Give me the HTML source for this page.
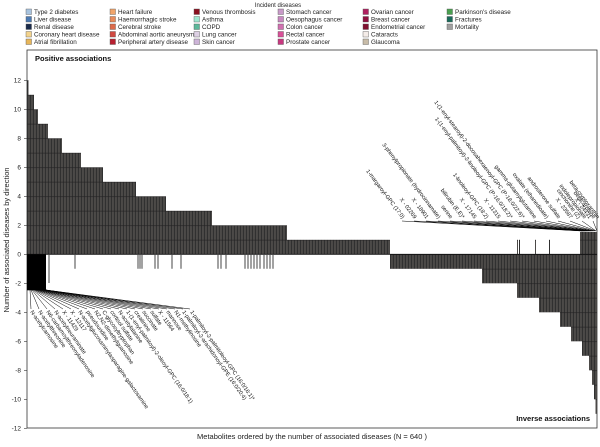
<!DOCTYPE html>
<html><head><meta charset="utf-8"><style>
body{margin:0;background:#fff;}
svg{display:block;font-family:"Liberation Sans",sans-serif;}
</style></head><body>
<svg width="600" height="447" viewBox="0 0 600 447" xmlns="http://www.w3.org/2000/svg">
<defs>
<pattern id="st" width="3" height="14.5" patternUnits="userSpaceOnUse" y="254.3">
<rect width="3" height="14.5" fill="#474545"/>
<rect x="0" width="0.8" height="14.5" fill="#2a2a2a"/>
<rect x="1.6" width="0.6" height="14.5" fill="#55504c"/>
<rect y="0" width="3" height="0.6" fill="#222"/>
</pattern>
</defs>
<text x="278" y="7" font-size="6" text-anchor="middle" fill="#222">Incident diseases</text>
<g font-size="6.3" fill="#222">
<rect x="26" y="9" width="5.5" height="5.5" fill="#a9c4df" stroke="#555" stroke-width=".4"/><text x="34" y="14">Type 2 diabetes</text>
<rect x="26" y="16.5" width="5.5" height="5.5" fill="#4c7ab3" stroke="#555" stroke-width=".4"/><text x="34" y="21.5">Liver disease</text>
<rect x="26" y="24" width="5.5" height="5.5" fill="#1a2a4a" stroke="#555" stroke-width=".4"/><text x="34" y="29">Renal disease</text>
<rect x="26" y="31.5" width="5.5" height="5.5" fill="#f3d38c" stroke="#555" stroke-width=".4"/><text x="34" y="36.5">Coronary heart disease</text>
<rect x="26" y="39" width="5.5" height="5.5" fill="#e7b65a" stroke="#555" stroke-width=".4"/><text x="34" y="44">Atrial fibrillation</text>
<rect x="110" y="9" width="5.5" height="5.5" fill="#f0a46a" stroke="#555" stroke-width=".4"/><text x="118" y="14">Heart failure</text>
<rect x="110" y="16.5" width="5.5" height="5.5" fill="#e88a5a" stroke="#555" stroke-width=".4"/><text x="118" y="21.5">Haemorrhagic stroke</text>
<rect x="110" y="24" width="5.5" height="5.5" fill="#dd6a4a" stroke="#555" stroke-width=".4"/><text x="118" y="29">Cerebral stroke</text>
<rect x="110" y="31.5" width="5.5" height="5.5" fill="#d04840" stroke="#555" stroke-width=".4"/><text x="118" y="36.5">Abdominal aortic aneurysms</text>
<rect x="110" y="39" width="5.5" height="5.5" fill="#b82030" stroke="#555" stroke-width=".4"/><text x="118" y="44">Peripheral artery disease</text>
<rect x="194" y="9" width="5.5" height="5.5" fill="#8a1020" stroke="#555" stroke-width=".4"/><text x="202" y="14">Venous thrombosis</text>
<rect x="194" y="16.5" width="5.5" height="5.5" fill="#9ee8d0" stroke="#555" stroke-width=".4"/><text x="202" y="21.5">Asthma</text>
<rect x="194" y="24" width="5.5" height="5.5" fill="#5cb89a" stroke="#555" stroke-width=".4"/><text x="202" y="29">COPD</text>
<rect x="194" y="31.5" width="5.5" height="5.5" fill="#ddd0e4" stroke="#555" stroke-width=".4"/><text x="202" y="36.5">Lung cancer</text>
<rect x="194" y="39" width="5.5" height="5.5" fill="#cdb4d8" stroke="#555" stroke-width=".4"/><text x="202" y="44">Skin cancer</text>
<rect x="278" y="9" width="5.5" height="5.5" fill="#c89ac8" stroke="#555" stroke-width=".4"/><text x="286" y="14">Stomach cancer</text>
<rect x="278" y="16.5" width="5.5" height="5.5" fill="#c888c0" stroke="#555" stroke-width=".4"/><text x="286" y="21.5">Oesophagus cancer</text>
<rect x="278" y="24" width="5.5" height="5.5" fill="#d070b0" stroke="#555" stroke-width=".4"/><text x="286" y="29">Colon cancer</text>
<rect x="278" y="31.5" width="5.5" height="5.5" fill="#d85098" stroke="#555" stroke-width=".4"/><text x="286" y="36.5">Rectal cancer</text>
<rect x="278" y="39" width="5.5" height="5.5" fill="#c83880" stroke="#555" stroke-width=".4"/><text x="286" y="44">Prostate cancer</text>
<rect x="363" y="9" width="5.5" height="5.5" fill="#b02060" stroke="#555" stroke-width=".4"/><text x="371" y="14">Ovarian cancer</text>
<rect x="363" y="16.5" width="5.5" height="5.5" fill="#901040" stroke="#555" stroke-width=".4"/><text x="371" y="21.5">Breast cancer</text>
<rect x="363" y="24" width="5.5" height="5.5" fill="#801030" stroke="#555" stroke-width=".4"/><text x="371" y="29">Endometrial cancer</text>
<rect x="363" y="31.5" width="5.5" height="5.5" fill="#f4ece8" stroke="#555" stroke-width=".4"/><text x="371" y="36.5">Cataracts</text>
<rect x="363" y="39" width="5.5" height="5.5" fill="#c8bca8" stroke="#555" stroke-width=".4"/><text x="371" y="44">Glaucoma</text>
<rect x="447" y="9" width="5.5" height="5.5" fill="#4aa050" stroke="#555" stroke-width=".4"/><text x="455" y="14">Parkinson's disease</text>
<rect x="447" y="16.5" width="5.5" height="5.5" fill="#1a6a5a" stroke="#555" stroke-width=".4"/><text x="455" y="21.5">Fractures</text>
<rect x="447" y="24" width="5.5" height="5.5" fill="#a0a0a0" stroke="#555" stroke-width=".4"/><text x="455" y="29">Mortality</text>
</g>
<rect x="27" y="50" width="570" height="378" fill="none" stroke="#333" stroke-width="0.8"/>
<text x="35" y="61" font-size="7.5" font-weight="bold" fill="#111">Positive associations</text>
<text x="590" y="421" font-size="7.5" font-weight="bold" fill="#111" text-anchor="end">Inverse associations</text>
<g fill="url(#st)">
<rect x="27" y="80.3" width="1.5" height="174"/>
<rect x="28.5" y="94.8" width="5.5" height="159.5"/>
<rect x="34" y="109.3" width="4" height="145"/>
<rect x="38" y="123.8" width="10" height="130.5"/>
<rect x="48" y="138.3" width="14" height="116"/>
<rect x="62" y="152.8" width="19" height="101.5"/>
<rect x="81" y="167.3" width="22" height="87"/>
<rect x="103" y="181.8" width="33" height="72.5"/>
<rect x="136" y="196.3" width="30" height="58"/>
<rect x="166" y="210.8" width="46" height="43.5"/>
<rect x="212" y="225.3" width="75" height="29"/>
<rect x="287" y="239.8" width="103" height="14.5"/>
<rect x="580" y="232" width="17" height="22.3"/>
<rect x="517" y="239.8" width="1" height="14.5"/><rect x="519" y="239.8" width="1" height="14.5"/>
<rect x="535" y="239.8" width="1" height="14.5"/><rect x="549" y="239.8" width="1" height="14.5"/>
<rect x="390" y="254.3" width="207" height="14.5"/>
<rect x="482" y="254.3" width="115" height="29"/>
<rect x="517" y="254.3" width="80" height="43.5"/>
<rect x="539" y="254.3" width="58" height="58"/>
<rect x="560" y="254.3" width="37" height="72.5"/>
<rect x="571" y="254.3" width="26" height="87"/>
<rect x="582" y="254.3" width="15" height="101.5"/>
<rect x="589" y="254.3" width="8" height="116"/>
<rect x="592" y="254.3" width="5" height="130.5"/>
<rect x="594" y="254.3" width="3" height="145"/>
<rect x="595.5" y="254.3" width="1.5" height="159.5"/>
</g>
<line x1="27" y1="254.3" x2="597" y2="254.3" stroke="#111" stroke-width="0.8"/>
<g stroke="#444" stroke-width="1">
<line x1="49" y1="254" x2="49" y2="283"/>
<line x1="75" y1="254" x2="75" y2="268.8"/>
<line x1="138" y1="254" x2="138" y2="268.8"/><line x1="140" y1="254" x2="140" y2="268.8"/><line x1="142" y1="254" x2="142" y2="268.8"/>
<line x1="155" y1="254" x2="155" y2="268.8"/><line x1="158" y1="254" x2="158" y2="268.8"/>
<line x1="172" y1="254" x2="172" y2="268.8"/><line x1="181" y1="254" x2="181" y2="268.8"/>
<line x1="218" y1="254" x2="218" y2="268.8"/><line x1="221" y1="254" x2="221" y2="268.8"/><line x1="226" y1="254" x2="226" y2="268.8"/>
<line x1="245" y1="254" x2="245" y2="268.8"/><line x1="248" y1="254" x2="248" y2="268.8"/><line x1="251" y1="254" x2="251" y2="268.8"/><line x1="254" y1="254" x2="254" y2="268.8"/><line x1="257" y1="254" x2="257" y2="268.8"/><line x1="260" y1="254" x2="260" y2="268.8"/><line x1="264" y1="254" x2="264" y2="268.8"/><line x1="267" y1="254" x2="267" y2="268.8"/><line x1="270" y1="254" x2="270" y2="268.8"/><line x1="273" y1="254" x2="273" y2="268.8"/>
</g>
<rect x="27" y="254.3" width="19" height="36" fill="#000"/>
<g stroke="#000" stroke-width="0.5">
<line x1="30" y1="290" x2="31" y2="309"/><line x1="31" y1="290" x2="39" y2="309"/><line x1="32" y1="290" x2="47" y2="309"/><line x1="33" y1="290" x2="55" y2="309"/><line x1="34" y1="290" x2="63" y2="309"/><line x1="35" y1="290" x2="71" y2="309"/><line x1="36" y1="290" x2="79" y2="309"/><line x1="37" y1="290" x2="87" y2="309"/><line x1="38" y1="290" x2="95" y2="309"/><line x1="39" y1="290" x2="103" y2="309"/><line x1="40" y1="290" x2="111" y2="309"/><line x1="41" y1="290" x2="119" y2="309"/><line x1="42" y1="290" x2="127" y2="309"/><line x1="43" y1="290" x2="135" y2="309"/><line x1="44" y1="290" x2="143" y2="309"/><line x1="45" y1="290" x2="151" y2="309"/><line x1="45" y1="290" x2="159" y2="309"/><line x1="46" y1="290" x2="167" y2="309"/><line x1="46" y1="290" x2="175" y2="309"/><line x1="46" y1="290" x2="183" y2="309"/><line x1="46" y1="290" x2="190" y2="309"/>
</g>
<g font-size="5.6" fill="#111">
<text transform="translate(30,312) rotate(55)">N-acetylcarnosine</text>
<text transform="translate(38,312) rotate(55)">N-acetylthreonine</text>
<text transform="translate(46,312) rotate(55)">N6-carbamoylthreonyladenosine</text>
<text transform="translate(54,312) rotate(55)">N-acetylneuraminate</text>
<text transform="translate(62,312) rotate(55)">X - 11429</text>
<text transform="translate(70,312) rotate(55)">X - 12117</text>
<text transform="translate(78,312) rotate(55)">N-acetylglucosaminylasparagine-galactosamine</text>
<text transform="translate(86,312) rotate(55)">pseudouridine</text>
<text transform="translate(94,312) rotate(55)">N2,N2-dimethylguanosine</text>
<text transform="translate(102,312) rotate(55)">C-glycosyltryptophan</text>
<text transform="translate(110,312) rotate(55)">cortisol sulfate</text>
<text transform="translate(118,312) rotate(55)">N-acetylalanine</text>
<text transform="translate(126,312) rotate(55)">1-(1-enyl-palmitoyl)-2-oleoyl-GPC (16:0/18:1)</text>
<text transform="translate(134,312) rotate(55)">creatinine</text>
<text transform="translate(142,312) rotate(55)">succinate</text>
<text transform="translate(150,312) rotate(55)">sulfate</text>
<text transform="translate(158,312) rotate(55)">X - 11564</text>
<text transform="translate(166,312) rotate(55)">mannose</text>
<text transform="translate(174,312) rotate(55)">N1-methylinosine</text>
<text transform="translate(182,312) rotate(55)">1-palmitoyl-2-arachidonoyl-GPE (16:0/20:4)</text>
<text transform="translate(190,312) rotate(55)">1-palmitoyl-2-palmitoleoyl-GPC (16:0/16:1)*</text>
</g>
<g stroke="#000" stroke-width="0.5">
<line x1="402" y1="221" x2="582" y2="231"/><line x1="414" y1="221" x2="583" y2="231"/><line x1="426" y1="221" x2="584" y2="231"/><line x1="438" y1="221" x2="585" y2="231"/><line x1="450" y1="221" x2="586" y2="231"/><line x1="462" y1="221" x2="587" y2="231"/><line x1="474" y1="221" x2="588" y2="231"/><line x1="486" y1="221" x2="589" y2="231"/><line x1="498" y1="221" x2="590" y2="231"/><line x1="510" y1="221" x2="591" y2="231"/><line x1="522" y1="221" x2="592" y2="231"/><line x1="534" y1="221" x2="593" y2="231"/><line x1="546" y1="221" x2="594" y2="231"/><line x1="558" y1="221" x2="595" y2="231"/><line x1="570" y1="221" x2="596" y2="231"/><line x1="582" y1="221" x2="596" y2="231"/><line x1="593" y1="221" x2="597" y2="231"/>
</g>
<g font-size="5.6" fill="#111" text-anchor="end">
<text transform="translate(402,219) rotate(53)">1-margaroyl-GPC (17:0)</text>
<text transform="translate(414,219) rotate(53)">X - 02269</text>
<text transform="translate(426,219) rotate(53)">X - 18901</text>
<text transform="translate(438,219) rotate(53)">3-phenylpropionate (hydrocinnamate)</text>
<text transform="translate(450,219) rotate(53)">serine</text>
<text transform="translate(462,219) rotate(53)">bilirubin (E,E)*</text>
<text transform="translate(474,219) rotate(53)">X - 17145</text>
<text transform="translate(486,219) rotate(53)">1-linoleoyl-GPC (18:2)</text>
<text transform="translate(498,219) rotate(53)">X - 11315</text>
<text transform="translate(510,219) rotate(53)">1-(1-enyl-palmitoyl)-2-linoleoyl-GPC (P-16:0/18:2)*</text>
<text transform="translate(522,219) rotate(53)">1-(1-enyl-stearoyl)-2-docosahexaenoyl-GPC (P-18:0/22:6)*</text>
<text transform="translate(534,219) rotate(53)">gamma-glutamylglutamine</text>
<text transform="translate(546,219) rotate(53)">oxalate (ethanedioate)</text>
<text transform="translate(558,219) rotate(53)">androsterone sulfate</text>
<text transform="translate(570,219) rotate(53)">X - 23587</text>
<text transform="translate(578,219) rotate(53)">cinchonine (Z)</text>
<text transform="translate(584,219) rotate(53)">indolepropionate</text>
<text transform="translate(589,219) rotate(53)">X - 24431</text>
<text transform="translate(593,219) rotate(53)">betacarotene</text>
<text transform="translate(597,219) rotate(53)">beta-cryptoxanthin</text>
</g>
<g stroke="#333" stroke-width="0.6">
<line x1="24" y1="80.3" x2="27" y2="80.3"/><line x1="24" y1="109.3" x2="27" y2="109.3"/><line x1="24" y1="138.3" x2="27" y2="138.3"/><line x1="24" y1="167.3" x2="27" y2="167.3"/><line x1="24" y1="196.3" x2="27" y2="196.3"/><line x1="24" y1="225.3" x2="27" y2="225.3"/><line x1="24" y1="254.3" x2="27" y2="254.3"/><line x1="24" y1="283.3" x2="27" y2="283.3"/><line x1="24" y1="312.3" x2="27" y2="312.3"/><line x1="24" y1="341.3" x2="27" y2="341.3"/><line x1="24" y1="370.3" x2="27" y2="370.3"/><line x1="24" y1="399.3" x2="27" y2="399.3"/><line x1="24" y1="428.3" x2="27" y2="428.3"/>
</g>
<g font-size="6.5" fill="#222" text-anchor="end">
<text x="21" y="82.5">12</text><text x="21" y="111.5">10</text><text x="21" y="140.5">8</text><text x="21" y="169.5">6</text><text x="21" y="198.5">4</text><text x="21" y="227.5">2</text><text x="21" y="256.5">0</text><text x="21" y="285.5">-2</text><text x="21" y="314.5">-4</text><text x="21" y="343.5">-6</text><text x="21" y="372.5">-8</text><text x="21" y="401.5">-10</text><text x="21" y="430.5">-12</text>
</g>
<text transform="translate(9,240) rotate(-90)" font-size="7.5" fill="#222" text-anchor="middle">Number of associated diseases by direction</text>
<text x="312" y="439" font-size="7.5" fill="#222" text-anchor="middle">Metabolites ordered by the number of associated diseases (N = 640 )</text>
</svg>
</body></html>
